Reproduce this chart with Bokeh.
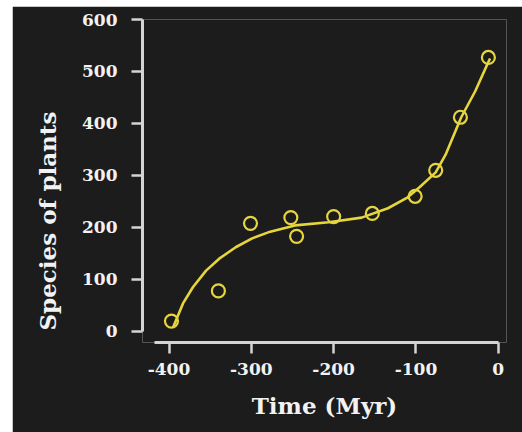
from bokeh.plotting import figure
from bokeh.models import Range1d, FixedTicker, Spacer, Title
from bokeh.layouts import column, row
from bokeh.embed import file_html
from bokeh.resources import INLINE

# Observed data points (time in Myr, number of plant species)
time_myr = [-397, -340, -301, -252, -245, -200, -153, -101, -76, -46, -12]
species = [20, 78, 208, 219, 183, 221, 227, 260, 310, 412, 527]

# Fitted curve
curve_time = [-395, -383, -371, -355, -339, -319, -299, -277, -247, -206,
              -166, -134, -110, -96, -76, -64, -45, -28, -13, -10]
curve_species = [8, 54, 85, 117, 140, 162, 179, 192, 204, 210,
                 219, 237, 258, 277, 306, 340, 412, 462, 515, 525]

y_ticks = [0, 100, 200, 300, 400, 500, 600]
x_ticks = [-400, -300, -200, -100, 0]
x_tick_labels = ["-400", "-300", "-200", "-100", "0"]

BG = "#1c1c1c"
AX = "#d4d4d4"
TXT = "#f2f2f2"
YEL = "#e6d53c"
FONT = "DejaVu Serif"

p = figure(width=510, height=426, output_backend="svg", toolbar_location=None,
           x_range=Range1d(-432.2, 10), y_range=Range1d(-21.2, 600),
           min_border_left=128, min_border_right=16, min_border_top=13,
           min_border_bottom=90,
           background_fill_color=BG, border_fill_color=BG)
p.outline_line_color = None
p.grid.visible = False

p.line(curve_time, curve_species, line_color=YEL, line_width=2.6)
p.scatter(time_myr, species, marker="circle", size=13, fill_color=None,
          line_color=YEL, line_width=2.2)

# axes
xa = p.xaxis[0]
xa.ticker = FixedTicker(ticks=x_ticks)
xa.major_label_overrides = {t: l for t, l in zip(x_ticks, x_tick_labels)}
xa.bounds = (-418, 0)
ya = p.yaxis[0]
ya.ticker = FixedTicker(ticks=y_ticks)
ya.bounds = (0, 600)
for ax in (xa, ya):
    ax.axis_line_color = AX
    ax.axis_line_width = 3
    ax.major_tick_line_color = AX
    ax.major_tick_line_width = 2.5
    ax.major_tick_out = 11
    ax.major_tick_in = 0
    ax.minor_tick_line_color = None
    ax.major_label_text_color = TXT
    ax.major_label_text_font = FONT
    ax.major_label_text_font_size = "17px"
    ax.major_label_text_font_style = "bold"
ya.major_label_standoff = 14
xa.major_label_standoff = 9

xa.axis_label = "Time (Myr)"
xa.axis_label_text_color = TXT
xa.axis_label_text_font = FONT
xa.axis_label_text_font_size = "23px"
xa.axis_label_text_font_style = "bold"
xa.axis_label_standoff = 14

ytitle = Title(text="Species of plants", align="left", offset=12,
               text_color=TXT, text_font=FONT, text_font_size="23px",
               text_font_style="bold", standoff=38)
p.add_layout(ytitle, "left")

layout = column(Spacer(height=6), row(Spacer(width=12), p))
open("out.html", "w").write(file_html(layout, INLINE))
